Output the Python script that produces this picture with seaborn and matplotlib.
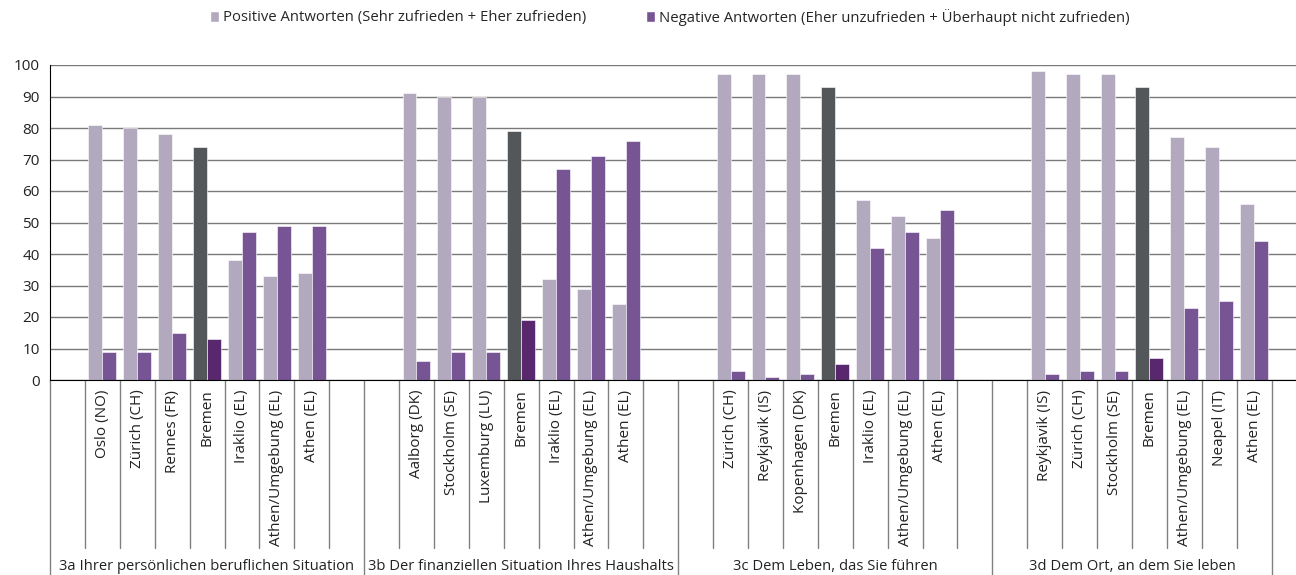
import numpy as np
import pandas as pd
import matplotlib.pyplot as plt
import matplotlib.transforms as mtransforms
from matplotlib.patches import Patch
import seaborn as sns

# Daten
groups = ['3a Ihrer persönlichen beruflichen Situation',
          '3b Der finanziellen Situation Ihres Haushalts',
          '3c Dem Leben, das Sie führen',
          '3d Dem Ort, an dem Sie leben']

cities_3a = ['Oslo (NO)', 'Zürich (CH)', 'Rennes (FR)', 'Bremen', 'Iraklio (EL)', 'Athen/Umgebung (EL)', 'Athen (EL)']
pos_3a = [81, 80, 78, 74, 38, 33, 34]
neg_3a = [9, 9, 15, 13, 47, 49, 49]

cities_3b = ['Aalborg (DK)', 'Stockholm (SE)', 'Luxemburg (LU)', 'Bremen', 'Iraklio (EL)', 'Athen/Umgebung (EL)', 'Athen (EL)']
pos_3b = [91, 90, 90, 79, 32, 29, 24]
neg_3b = [6, 9, 9, 19, 67, 71, 76]

cities_3c = ['Zürich (CH)', 'Reykjavik (IS)', 'Kopenhagen (DK)', 'Bremen', 'Iraklio (EL)', 'Athen/Umgebung (EL)', 'Athen (EL)']
pos_3c = [97, 97, 97, 93, 57, 52, 45]
neg_3c = [3, 1, 2, 5, 42, 47, 54]

cities_3d = ['Reykjavik (IS)', 'Zürich (CH)', 'Stockholm (SE)', 'Bremen', 'Athen/Umgebung (EL)', 'Neapel (IT)', 'Athen (EL)']
pos_3d = [98, 97, 97, 93, 77, 74, 56]
neg_3d = [2, 3, 3, 7, 23, 25, 44]

pos_name = 'Positive Antworten (Sehr zufrieden + Eher zufrieden)'
neg_name = 'Negative Antworten (Eher unzufrieden + Überhaupt nicht zufrieden)'

pos_color = '#B3A9BF'
neg_color = '#775595'
bremen_pos = '#53575A'
bremen_neg = '#58276D'

all_cities = [cities_3a, cities_3b, cities_3c, cities_3d]
all_pos = [pos_3a, pos_3b, pos_3c, pos_3d]
all_neg = [neg_3a, neg_3b, neg_3c, neg_3d]

# Slots: leer, 7 Staedte, leer
slot_keys, slot_labels, rows = [], [], []
for g, cities in enumerate(all_cities):
    slot_keys.append(f'{g}_a'); slot_labels.append('')
    for c, p, n in zip(cities, all_pos[g], all_neg[g]):
        key = f'{g}_{c}'
        slot_keys.append(key); slot_labels.append(c)
        rows.append((key, pos_name, p))
        rows.append((key, neg_name, n))
    slot_keys.append(f'{g}_b'); slot_labels.append('')
df = pd.DataFrame(rows, columns=['slot', 'series', 'value'])

sns.set_style('white')
plt.rcParams['font.family'] = ['Open Sans', 'DejaVu Sans']

fig = plt.figure(figsize=(12.96, 5.75), dpi=100)
ax = fig.add_axes([50/1296, 1 - 380/575, 1 - 50/1296, 315/575])

sns.barplot(data=df, x='slot', y='value', hue='series', order=slot_keys,
            hue_order=[pos_name, neg_name], palette=[pos_color, neg_color],
            width=0.8, saturation=1, errorbar=None, legend=False, ax=ax)

for ci, cont in enumerate(ax.containers):
    for bar in cont:
        k = int(round(bar.get_x() + bar.get_width() / 2))
        if slot_labels[k] == 'Bremen':
            bar.set_facecolor(bremen_pos if ci == 0 else bremen_neg)
        bar.set_edgecolor('white')
        bar.set_linewidth(0.4)

ax.set_xlim(-0.5, 35.2)
ax.set_ylim(0, 100)
ax.set_yticks(range(0, 101, 10))
ax.yaxis.grid(True, color='#7a7a7a', lw=1)
ax.set_axisbelow(True)
ax.set_xlabel('')
ax.set_ylabel('')
for s in ['top', 'right']:
    ax.spines[s].set_visible(False)
ax.spines['left'].set_color('black')
ax.spines['bottom'].set_color('black')
ax.tick_params(axis='y', length=4, direction='out', labelsize=11, colors='#222222', color='black')
ax.set_xticks(range(len(slot_keys)))
ax.set_xticklabels(slot_labels, rotation=90, va='top', ha='center')
ax.tick_params(axis='x', length=0, pad=7, labelsize=11, colors='#222222')

trans = mtransforms.blended_transform_factory(ax.transData, ax.transAxes)
long_lines = [-0.5, 8.5, 17.5, 26.5, 34.5]
for b in np.arange(-0.5, 35.0, 1.0):
    y_end = -195/315 if b in long_lines else -168/315
    ax.plot([b, b], [0, y_end], transform=trans, color='#808080', lw=1, clip_on=False)

for g, name in enumerate(groups):
    lo = -0.5 + 9 * g
    hi = min(lo + 9, 34.5)
    ax.text((lo + hi) / 2, -186/315, name, transform=trans, ha='center', va='center',
            fontsize=10.6, color='#222222')

handles = [Patch(facecolor=pos_color, label=pos_name), Patch(facecolor=neg_color, label=neg_name)]
fig.legend(handles=handles, loc='center', bbox_to_anchor=(0.517, 1 - 17/575), ncol=2,
           frameon=False, fontsize=10.7, handlelength=0.6, handleheight=0.8,
           handletextpad=0.3, columnspacing=4.0)

fig.savefig('out.png', dpi=100)
